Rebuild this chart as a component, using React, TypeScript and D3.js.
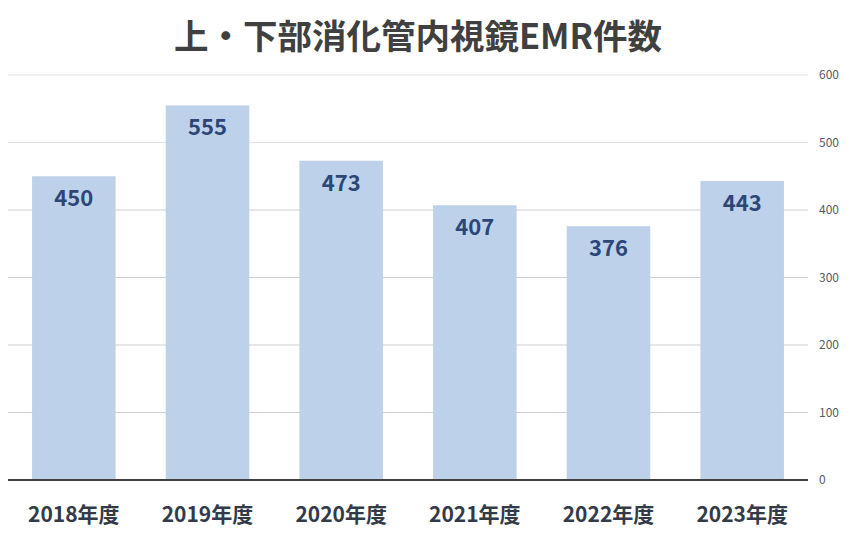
import { useEffect, useRef } from "react";
import * as d3 from "d3";

const years = ["2018年度", "2019年度", "2020年度", "2021年度", "2022年度", "2023年度"];
const counts = [450, 555, 473, 407, 376, 443];
const ticks = [0, 100, 200, 300, 400, 500, 600];

export default function App() {
  const svgRef = useRef(null);

  useEffect(() => {
    if (!svgRef.current) return;
    const width = 853;
    const height = 536;
    const left = 8;
    const right = 808;
    const top = 75;
    const bottom = 480;
    const font = "'Noto Sans CJK JP', 'Noto Sans', sans-serif";

    const svg = d3.select(svgRef.current);
    svg.selectAll("*").remove();
    svg.attr("width", width).attr("height", height).attr("viewBox", `0 0 ${width} ${height}`);

    const x = d3.scaleBand().domain(years).range([left, right]).paddingInner(0.375).paddingOuter(0.18);
    const y = d3.scaleLinear().domain([0, 600]).range([bottom, top]);

    svg
      .append("text")
      .attr("x", 418)
      .attr("y", 49)
      .attr("text-anchor", "middle")
      .attr("font-family", font)
      .attr("font-size", "34.5px")
      .attr("font-weight", "700")
      .attr("fill", "#404040")
      .text("上・下部消化管内視鏡EMR件数");

    ticks.forEach((t) => {
      if (t > 0) {
        svg
          .append("line")
          .attr("x1", left)
          .attr("x2", right)
          .attr("y1", y(t))
          .attr("y2", y(t))
          .attr("stroke", t >= 500 ? "#e3e3e3" : "#cfcfcf")
          .attr("stroke-width", 1);
      }
      svg
        .append("text")
        .attr("x", 819)
        .attr("y", y(t) + 4)
        .attr("font-family", font)
        .attr("font-size", "12px")
        .attr("fill", "#595959")
        .text(t);
    });

    years.forEach((yr, i) => {
      const v = counts[i];
      svg
        .append("rect")
        .attr("x", x(yr)!)
        .attr("y", y(v))
        .attr("width", x.bandwidth())
        .attr("height", bottom - y(v))
        .attr("fill", "#bdd1ea");

      svg
        .append("text")
        .attr("x", x(yr)! + x.bandwidth() / 2)
        .attr("y", y(v) + 30)
        .attr("text-anchor", "middle")
        .attr("font-family", font)
        .attr("font-size", "22px")
        .attr("font-weight", "700")
        .attr("fill", "#2b4677")
        .text(v);

      svg
        .append("text")
        .attr("x", x(yr)! + x.bandwidth() / 2)
        .attr("y", 522)
        .attr("text-anchor", "middle")
        .attr("font-family", font)
        .attr("font-size", "21px")
        .attr("font-weight", "700")
        .attr("fill", "#333a48")
        .text(yr);
    });

    svg
      .append("line")
      .attr("x1", left)
      .attr("x2", right)
      .attr("y1", bottom)
      .attr("y2", bottom)
      .attr("stroke", "#404040")
      .attr("stroke-width", 2);
  }, []);

  return (
    <div style={{ position: "absolute", left: 0, top: 0 }}>
      <svg ref={svgRef} />
    </div>
  );
}
